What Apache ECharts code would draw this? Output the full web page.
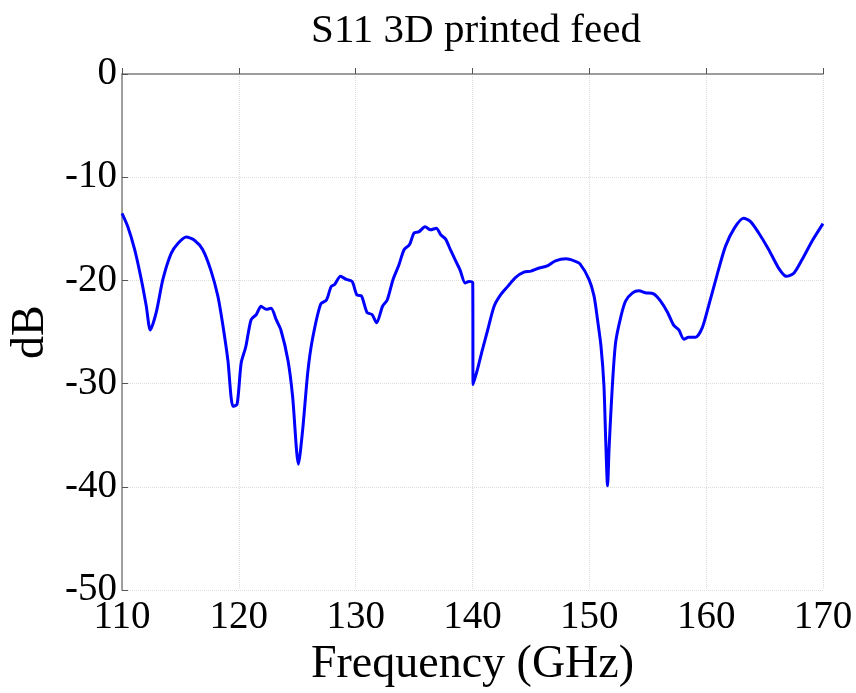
<!DOCTYPE html>
<html>
<head>
  <meta charset="UTF-8">
  <title>S11 3D printed feed</title>
  <script type="text/javascript" src="https://cdn.jsdelivr.net/npm/echarts@6/dist/echarts.min.js"></script>
  <style type="text/css">
    *{ margin: 0; padding: 0; }
    body{ background: #fff; }
    #main{ width: 856px; height: 693px; }
  </style>
</head>
<body>
  <div id="main"></div>
  <script type="text/javascript">
    // frequency (GHz)
    var freq = [110.0, 110.5, 111.08, 111.65, 112.08, 112.42, 112.93, 113.5, 114.2, 114.8,
                115.5, 116.2, 116.9, 117.6, 118.2, 118.6, 119.06, 119.5, 119.85, 120.2,
                120.6, 121.05, 121.5, 121.9, 122.35, 122.76, 123.2, 123.6, 124.2, 124.6,
                125.1, 125.47, 125.9, 126.3, 127.0, 127.5, 127.9, 128.2, 128.7, 129.2,
                129.7, 130.1, 130.5, 130.97, 131.4, 131.8, 132.3, 132.7, 133.2, 133.7,
                134.15, 134.6, 135.0, 135.4, 135.95, 136.4, 136.9, 137.3, 137.7, 138.1,
                138.6, 138.94, 139.37, 139.7, 140.02, 140.05, 140.43, 140.85, 141.3, 141.85,
                142.4, 143.0, 143.7, 144.4, 145.0, 145.7, 146.4, 147.1, 148.0, 148.7,
                149.2, 149.97, 150.4, 150.7, 151.0, 151.25, 151.4, 151.56, 151.7, 151.97,
                152.25, 152.7, 153.1, 153.7, 154.24, 154.8, 155.5, 156.1, 156.7, 157.2,
                157.66, 158.1, 158.5, 159.1, 159.66, 160.2, 160.9, 161.65, 162.4, 163.2,
                163.8, 164.5, 165.35, 166.2, 166.86, 167.5, 168.2, 169.06, 170.0];
    // S11 (dB)
    var s11 = [-13.5, -14.8, -17.0, -19.9, -22.5, -24.8, -23.1, -19.9, -17.4, -16.4,
               -15.8, -16.1, -17.0, -19.0, -21.5, -24.1, -27.7, -32.2, -32.0, -28.0,
               -26.4, -23.8, -23.3, -22.5, -22.8, -22.7, -23.8, -24.8, -27.7, -31.2,
               -37.8, -34.4, -28.9, -25.7, -22.3, -21.9, -20.6, -20.4, -19.6, -19.9,
               -20.1, -21.4, -21.5, -23.1, -23.3, -24.1, -22.5, -21.9, -19.9, -18.5,
               -17.0, -16.55, -15.4, -15.3, -14.8, -15.1, -14.95, -15.6, -16.0, -17.0,
               -18.2, -19.0, -20.25, -20.1, -20.2, -30.1, -28.6, -26.7, -24.8, -22.5,
               -21.4, -20.6, -19.7, -19.2, -19.1, -18.8, -18.6, -18.1, -17.9, -18.1,
               -18.4, -19.9, -21.5, -23.8, -26.4, -30.2, -35.4, -39.9, -36.0, -30.2,
               -26.0, -23.5, -22.0, -21.2, -21.0, -21.2, -21.3, -22.0, -23.1, -24.3,
               -24.8, -25.7, -25.5, -25.5, -24.6, -22.5, -19.6, -16.7, -14.95, -13.98,
               -14.3, -15.4, -17.0, -18.8, -19.6, -19.3, -18.0, -16.2, -14.5];
    var xTicks = [110, 170, 10];   // min, max, step
    var yTicks = [-50, 0, 10];

    var pts = [];
    for (var i = 0; i < freq.length; i++) pts.push([freq[i], s11[i]]);

    var serif = 'Liberation Serif';
    var myChart = echarts.init(document.getElementById('main'));
    var option = {
      backgroundColor: '#fff',
      animation: false,
      title: {
        text: 'S11 3D printed feed', left: 471, top: 6, textAlign: 'center',
        textStyle: { fontFamily: serif, fontWeight: 'normal', fontSize: 41, color: '#000' }
      },
      grid: { left: 121, right: 33, top: 74, bottom: 101 },
      xAxis: {
        type: 'value', min: xTicks[0], max: xTicks[1], interval: xTicks[2],
        name: 'Frequency (GHz)', nameLocation: 'middle', nameGap: 40,
        nameTextStyle: { fontFamily: serif, fontSize: 46, color: '#000' },
        axisLine: { lineStyle: { color: '#808080', width: 1.5 } },
        axisTick: { inside: true, length: 6, lineStyle: { color: '#555' } },
        axisLabel: { margin: 8, fontFamily: serif, fontSize: 39, color: '#000' },
        splitLine: { show: true, lineStyle: { color: '#dcdcdc', type: 'dotted', width: 1 } }
      },
      yAxis: {
        type: 'value', min: yTicks[0], max: yTicks[1], interval: yTicks[2],
        name: 'dB', nameLocation: 'middle', nameGap: 68, nameRotate: 90,
        nameTextStyle: { fontFamily: serif, fontSize: 46, color: '#000' },
        axisLine: { show: true, lineStyle: { color: '#808080', width: 1.5 } },
        axisTick: { show: true, inside: true, length: 6, lineStyle: { color: '#555' } },
        axisLabel: { margin: 5, fontFamily: serif, fontSize: 39, color: '#000' },
        splitLine: { show: true, lineStyle: { color: '#dcdcdc', type: 'dotted', width: 1 } }
      },
      series: [{
        type: 'line', data: pts, showSymbol: false, smooth: 0.25,
        lineStyle: { color: '#0000ff', width: 3 }
      }]
    };
    myChart.setOption(option);
  </script>
</body>
</html>
